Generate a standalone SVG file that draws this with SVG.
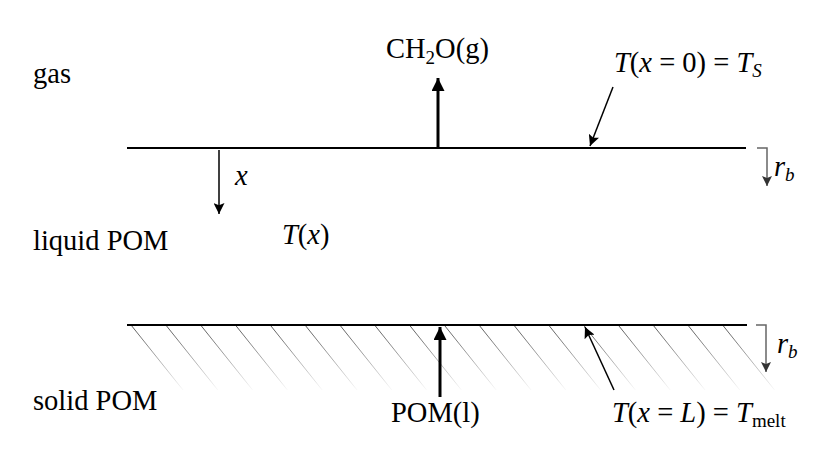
<svg xmlns="http://www.w3.org/2000/svg" width="836" height="459" viewBox="0 0 836 459">
<style>
text{font-family:"Liberation Serif","Times New Roman",serif;font-size:28.5px;fill:#000}
.it{font-style:italic}
.sub{font-size:19px}
.surf{stroke:#000;stroke-width:2.2;fill:none}
.thick{stroke:#000;stroke-width:3;fill:none}
.thin{stroke:#000;stroke-width:1.5;fill:none}
.grey{stroke:#666;stroke-width:1.5;fill:none}
.hatch{stroke:url(#hg);stroke-width:0.9}
</style>
<defs>
<linearGradient id="hg" gradientUnits="userSpaceOnUse" x1="0" y1="325" x2="0" y2="392">
<stop offset="0" stop-color="#444"/>
<stop offset="1" stop-color="#fff"/>
</linearGradient>
<marker id="ah" viewBox="0 0 10 10" refX="10" refY="5" markerWidth="12" markerHeight="11" markerUnits="userSpaceOnUse" orient="auto">
<path d="M0,0 L10,5 L0,10 L2,5 Z" fill="#000"/>
</marker>
<marker id="ahg" viewBox="0 0 10 10" refX="10" refY="5" markerWidth="11" markerHeight="10" markerUnits="userSpaceOnUse" orient="auto">
<path d="M0,0 L10,5 L0,10 L2,5 Z" fill="#333"/>
</marker>
<marker id="ahb" viewBox="0 0 10 10" refX="10" refY="5" markerWidth="14" markerHeight="13" markerUnits="userSpaceOnUse" orient="auto">
<path d="M0,0 L10,5 L0,10 Z" fill="#000"/>
</marker>
</defs>

<g id="hatching">
<line class="hatch" x1="131" y1="325" x2="183" y2="390"/>
<line class="hatch" x1="165.8" y1="325" x2="217.8" y2="390"/>
<line class="hatch" x1="200.6" y1="325" x2="252.6" y2="390"/>
<line class="hatch" x1="235.4" y1="325" x2="287.4" y2="390"/>
<line class="hatch" x1="270.2" y1="325" x2="322.2" y2="390"/>
<line class="hatch" x1="305" y1="325" x2="357" y2="390"/>
<line class="hatch" x1="339.8" y1="325" x2="391.8" y2="390"/>
<line class="hatch" x1="374.6" y1="325" x2="426.6" y2="390"/>
<line class="hatch" x1="409.4" y1="325" x2="461.4" y2="390"/>
<line class="hatch" x1="444.2" y1="325" x2="496.2" y2="390"/>
<line class="hatch" x1="479" y1="325" x2="531" y2="390"/>
<line class="hatch" x1="513.8" y1="325" x2="565.8" y2="390"/>
<line class="hatch" x1="548.6" y1="325" x2="600.6" y2="390"/>
<line class="hatch" x1="583.4" y1="325" x2="635.4" y2="390"/>
<line class="hatch" x1="618.2" y1="325" x2="670.2" y2="390"/>
<line class="hatch" x1="653" y1="325" x2="705" y2="390"/>
<line class="hatch" x1="687.8" y1="325" x2="739.8" y2="390"/>
<line class="hatch" x1="722.6" y1="325" x2="774.6" y2="390"/>
</g>

<g id="surface-top">
<line class="surf" x1="127" y1="148" x2="746" y2="148"/>
</g>
<g id="surface-bottom">
<line class="surf" x1="127" y1="325" x2="747" y2="325"/>
</g>

<g id="connectors">
<line class="thick" x1="438" y1="148" x2="438" y2="78" marker-end="url(#ahb)"/>
<line class="thick" x1="440" y1="397" x2="440" y2="327" marker-end="url(#ahb)"/>
<line class="thin" x1="613" y1="87" x2="590" y2="146" marker-end="url(#ah)"/>
<line class="thin" x1="614" y1="390" x2="585" y2="327" marker-end="url(#ah)"/>
<line class="thin" x1="219" y1="150" x2="219" y2="214" marker-end="url(#ah)"/>
<polyline class="grey" points="757,148 767,148 767,186" marker-end="url(#ahg)"/>
<polyline class="grey" points="756,325 766,325 766,372" marker-end="url(#ahg)"/>
</g>

<g id="gas"><text x="33" y="83">gas</text></g>
<g id="liquid"><text x="33" y="250">liquid POM</text></g>
<g id="solid"><text x="33" y="410">solid POM</text></g>
<g id="ch2o"><text x="386" y="58">CH<tspan class="sub" dy="6">2</tspan><tspan dy="-6">O(g)</tspan></text></g>
<g id="ts"><text x="614" y="72"><tspan class="it">T</tspan>(<tspan class="it">x</tspan> = 0) = <tspan class="it">T</tspan><tspan class="it sub" dy="5">S</tspan></text></g>
<g id="xlabel"><text class="it" x="235" y="185">x</text></g>
<g id="tx"><text x="282" y="244"><tspan class="it">T</tspan>(<tspan class="it">x</tspan>)</text></g>
<g id="rb1"><text x="774" y="176"><tspan class="it">r</tspan><tspan class="it sub" dy="5">b</tspan></text></g>
<g id="rb2"><text x="777" y="353"><tspan class="it">r</tspan><tspan class="it sub" dy="5">b</tspan></text></g>
<g id="poml"><text x="391" y="422">POM(l)</text></g>
<g id="tmelt"><text x="612" y="422"><tspan class="it">T</tspan>(<tspan class="it">x</tspan> = <tspan class="it">L</tspan>) = <tspan class="it">T</tspan><tspan class="sub" dy="5">melt</tspan></text></g>
</svg>
